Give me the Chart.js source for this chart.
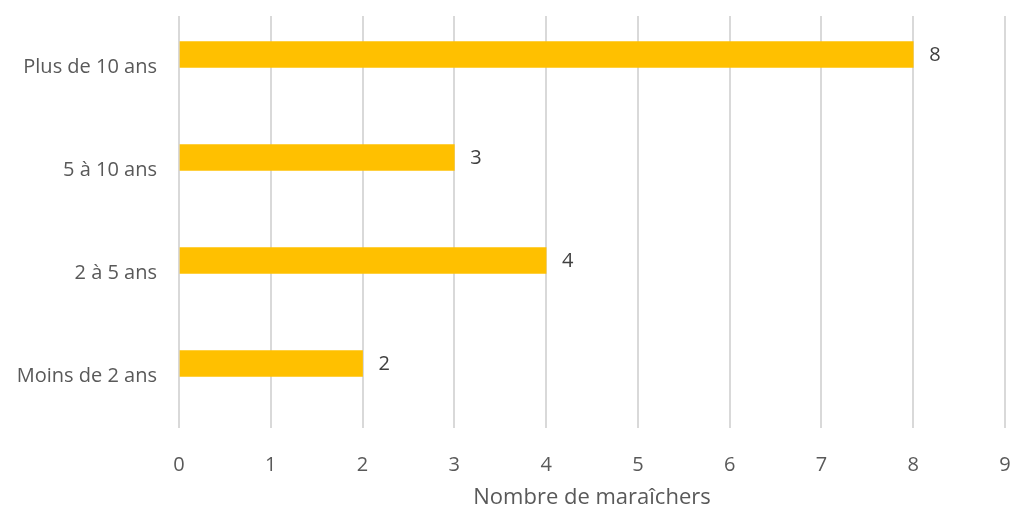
<!DOCTYPE html>
<html>
<head>
<meta charset="utf-8">
<script src="https://cdn.jsdelivr.net/npm/chart.js@4/dist/chart.umd.min.js"></script>
<style>
  html, body { margin: 0; padding: 0; background: #fff; }
  #wrap { width: 1011px; height: 508px; }
</style>
</head>
<body>
<div id="wrap"><canvas id="anciennete" width="1011" height="508"></canvas></div>
<script>
// durée d'activité des maraîchers
const categories = ["Plus de 10 ans", "5 à 10 ans", "2 à 5 ans", "Moins de 2 ans"];
const maraichers = [8, 3, 4, 2];
// serie vide (comme dans le tableur) qui décale les barres vers le haut
const emptySerie = [null, null, null, null];
const xTicks = [0, 1, 2, 3, 4, 5, 6, 7, 8, 9];

const textFont = "'Open Sans', 'Liberation Sans', sans-serif";

// étiquettes de valeur au bout des barres
const valueLabels = {
  id: "valueLabels",
  afterDatasetsDraw(chart) {
    const ctx = chart.ctx;
    const meta = chart.getDatasetMeta(0);
    ctx.save();
    ctx.font = "20px " + textFont;
    ctx.fillStyle = "#404040";
    ctx.textAlign = "left";
    ctx.textBaseline = "middle";
    meta.data.forEach((bar, i) => {
      ctx.fillText(String(maraichers[i]), bar.x + 16, bar.y + 1);
    });
    ctx.restore();
  }
};

const ctx = document.getElementById("anciennete").getContext("2d");
const chart = new Chart(ctx, {
  type: "bar",
  data: {
    labels: categories,
    datasets: [
      {
        label: "Nombre de maraîchers",
        data: maraichers,
        backgroundColor: "#FFC000",
        barThickness: 26,
      },
      {
        label: "",
        data: emptySerie,
        backgroundColor: "rgba(0,0,0,0)",
        barThickness: 26,
      },
    ],
  },
  options: {
    indexAxis: "y",
    responsive: false,
    animation: false,
    layout: { padding: { top: 16, right: 6, left: 0, bottom: 0 } },
    scales: {
      x: {
        min: 0,
        max: 9,
        afterBuildTicks(scale) {
          scale.ticks = xTicks.map(v => ({ value: v }));
        },
        afterFit(scale) {
          scale.height = 80;
          scale.paddingLeft = 0;
          scale.paddingRight = 0;
        },
        grid: { color: "#d9d9d9", lineWidth: 2, drawTicks: false },
        border: { display: false },
        ticks: {
          padding: 25,
          color: "#595959",
          font: { family: textFont, size: 20 },
        },
        title: {
          display: true,
          text: "Nombre de maraîchers",
          color: "#595959",
          padding: { top: 0, bottom: 0 },
          font: { family: textFont, size: 22, lineHeight: 0.9 },
        },
      },
      y: {
        afterFit(scale) {
          scale.width = 179;
          scale.paddingTop = 0;
          scale.paddingBottom = 0;
        },
        grid: { display: false, drawTicks: false },
        border: { display: false },
        ticks: {
          padding: 22,
          color: "#595959",
          font: { family: textFont, size: 20 },
        },
      },
    },
    plugins: {
      legend: { display: false },
      tooltip: { enabled: false },
    },
  },
  plugins: [valueLabels],
});
</script>
</body>
</html>
